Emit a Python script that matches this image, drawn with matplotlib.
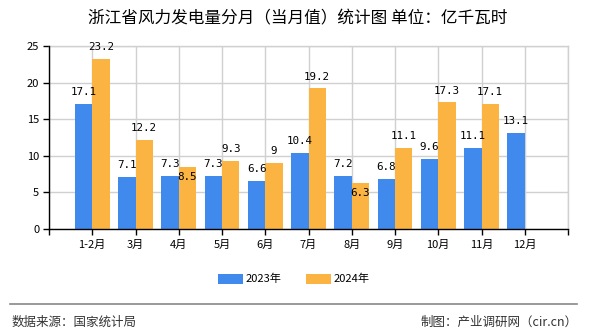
import matplotlib
matplotlib.use("Agg")
import matplotlib.pyplot as plt
from matplotlib.patches import Patch
from matplotlib.lines import Line2D

plt.rcParams['font.family'] = ['Noto Sans CJK SC', 'DejaVu Sans']

categories = ['1-2月', '3月', '4月', '5月', '6月', '7月', '8月', '9月', '10月', '11月', '12月']
values_2023 = [17.1, 7.1, 7.3, 7.3, 6.6, 10.4, 7.2, 6.8, 9.6, 11.1, 13.1]
values_2024 = [23.2, 12.2, 8.5, 9.3, 9, 19.2, 6.3, 11.1, 17.3, 17.1, None]
series_names = ['2023年', '2024年']
yticks = [0, 5, 10, 15, 20, 25]
title = '浙江省风力发电量分月（当月值）统计图 单位：亿千瓦时'
source = '数据来源：国家统计局'
maker = '制图：产业调研网（cir.cn）'

blue = '#418AED'
orange = '#FBB441'
grid_c = '#D0D0D0'

fig = plt.figure(figsize=(5.9, 3.3), dpi=100)
ax = fig.add_axes([49/590, 1-229/330, (568-49)/590, (229-46)/330])

pos = list(range(1, len(categories) + 1))
w = 0.4
lbl_font = ['DejaVu Sans Mono', 'Noto Sans CJK SC']
for p, a, b in zip(pos, values_2023, values_2024):
    ax.bar(p - w/2, a, width=w, color=blue, zorder=3)
    ax.annotate(f'{a:g}', (p - w/2, a), xytext=(0, 8.5), textcoords='offset points',
                ha='center', va='center', fontsize=7.8, family=lbl_font, zorder=5)
    if b is not None:
        ax.bar(p + w/2, b, width=w, color=orange, zorder=3)
        off = 8.5
        if b in (8.5, 6.3):
            off = -7
        ax.annotate(f'{b:g}', (p + w/2, b), xytext=(0, off), textcoords='offset points',
                    ha='center', va='center', fontsize=7.8, family=lbl_font, zorder=5)

ax.set_xlim(0, len(categories) + 1)
ax.set_ylim(0, 25)
ax.set_yticks(yticks)
ax.set_xticks(range(0, len(categories) + 2))
ax.set_xticklabels([''] + categories + [''])
ax.tick_params(axis='both', labelsize=8, length=4, width=1, color='black', labelcolor='black', pad=3)
ax.tick_params(axis='x', pad=4)
ax.grid(True, color=grid_c, linewidth=1, zorder=0)
ax.set_axisbelow(True)
for s in ['top', 'right']:
    ax.spines[s].set_color(grid_c)
    ax.spines[s].set_linewidth(1)
for s in ['left', 'bottom']:
    ax.spines[s].set_color('black')
    ax.spines[s].set_linewidth(1)
    ax.spines[s].set_zorder(4)

fig.text(298/590, 1-19/330, title, ha='center', va='center', fontsize=12)

handles = [Patch(facecolor=blue, edgecolor='none'), Patch(facecolor=orange, edgecolor='none')]
fig.legend(handles, series_names, loc='center', bbox_to_anchor=(294/590, 1-279/330), ncol=2,
           frameon=False, fontsize=8, handlelength=2.2, handleheight=1.0, handletextpad=0.3,
           columnspacing=2.2)

fig.add_artist(Line2D([10/590, 577/590], [1-304/330, 1-304/330], color='#888888', linewidth=1.2))
fig.text(12/590, 1-322/330, source, ha='left', va='center', fontsize=9, color='#333333')
fig.text(578/590, 1-322/330, maker, ha='right', va='center', fontsize=9, color='#333333')

fig.savefig('out.png', dpi=100)
